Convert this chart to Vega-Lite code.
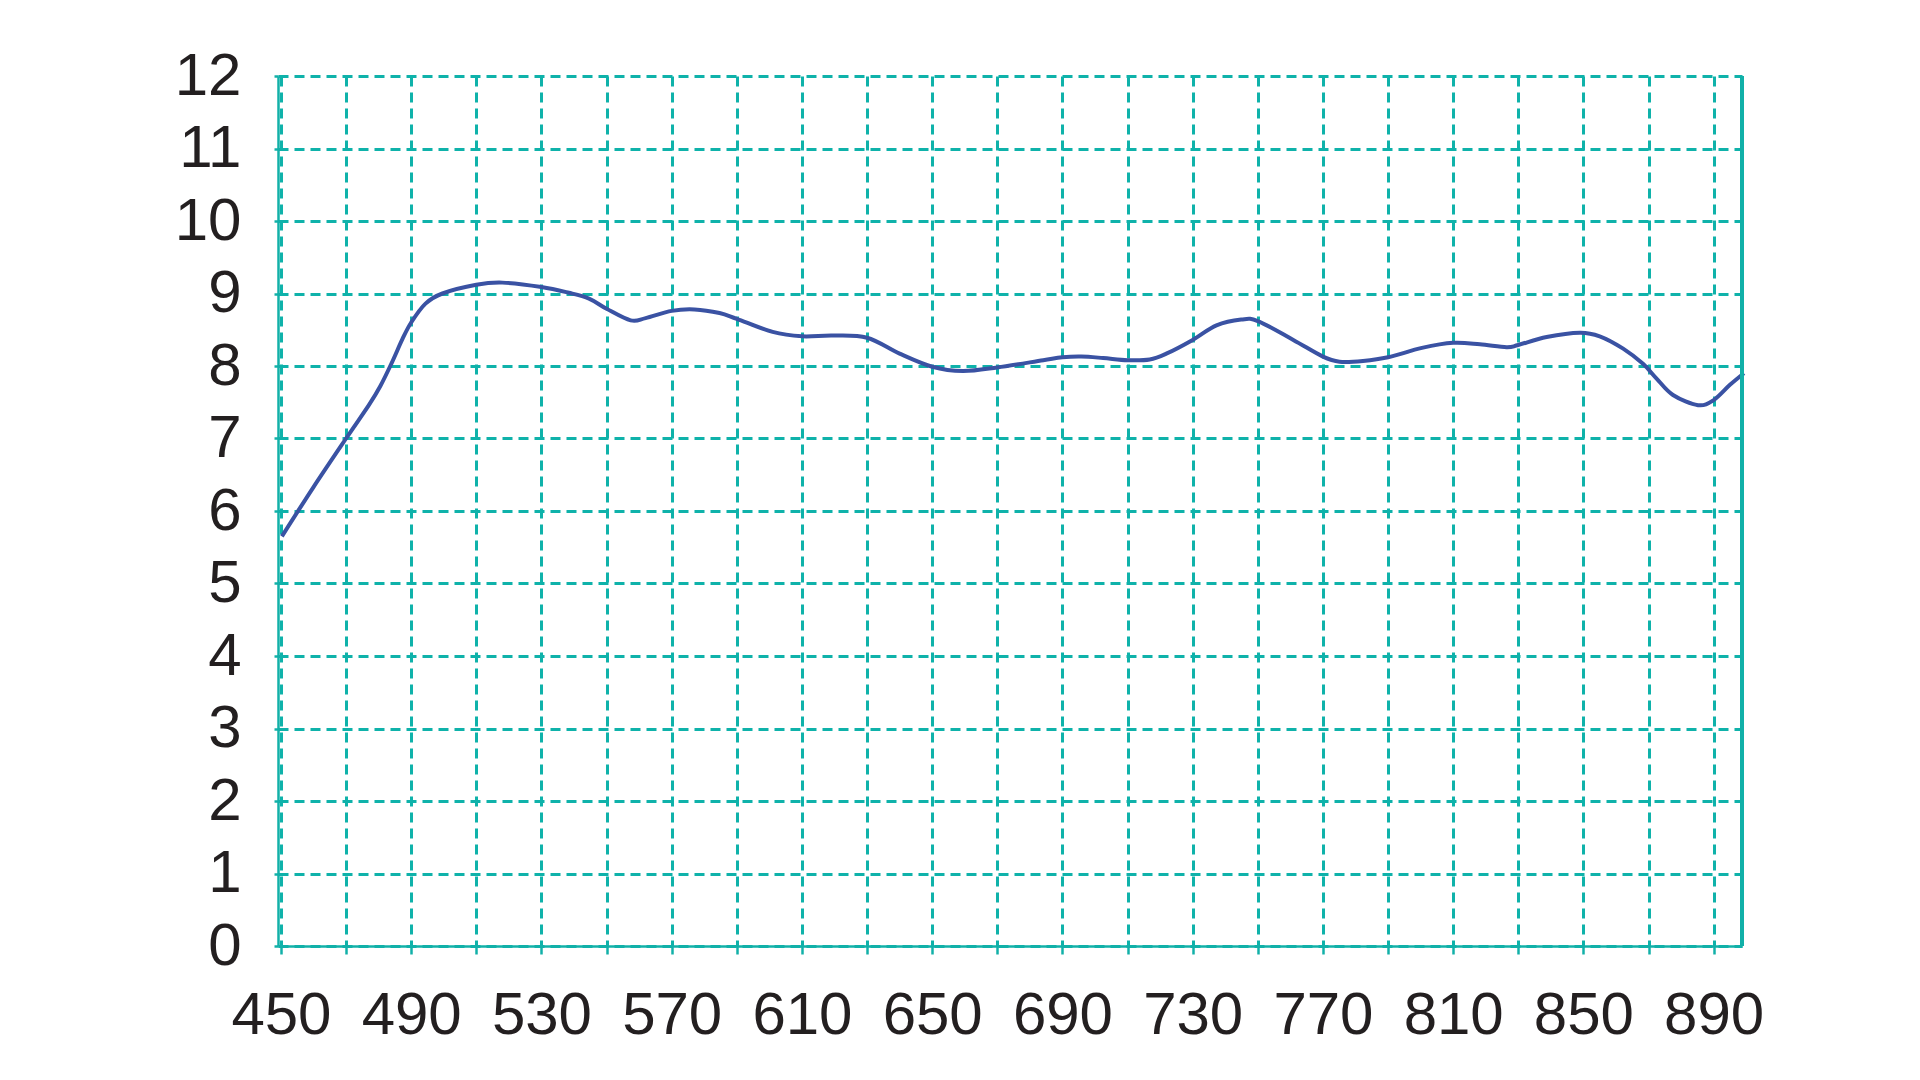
{
  "$schema": "https://vega.github.io/schema/vega-lite/v6.json",
  "width": 1464,
  "height": 870,
  "autosize": {"type": "none"},
  "padding": {"left": 278, "top": 76, "right": 178, "bottom": 134},
  "background": "white",
  "config": {
    "view": {"stroke": null},
    "font": "Liberation Sans",
    "axis": {
      "labelFont": "Liberation Sans",
      "labelFontSize": 60,
      "labelColor": "#231f20",
      "domainColor": "#12b0a8",
      "domainWidth": 2.5,
      "tickColor": "#12b0a8",
      "tickWidth": 2.5,
      "gridColor": "#0fb2aa",
      "gridWidth": 3,
      "gridDash": [10, 6],
      "gridOpacity": 1,
      "title": null
    }
  },
  "data": {
    "values": [
      {"wl": 450.3, "v": 5.65},
      {"wl": 460, "v": 6.33},
      {"wl": 470, "v": 7.0},
      {"wl": 477, "v": 7.46},
      {"wl": 480.5, "v": 7.72},
      {"wl": 484, "v": 8.04},
      {"wl": 487.3, "v": 8.37},
      {"wl": 490, "v": 8.6},
      {"wl": 494.4, "v": 8.86},
      {"wl": 499.6, "v": 9.0},
      {"wl": 510, "v": 9.12},
      {"wl": 518, "v": 9.15},
      {"wl": 530, "v": 9.09},
      {"wl": 538.4, "v": 9.01},
      {"wl": 544.6, "v": 8.93},
      {"wl": 550, "v": 8.79},
      {"wl": 557.4, "v": 8.63},
      {"wl": 562, "v": 8.66},
      {"wl": 570, "v": 8.76},
      {"wl": 577, "v": 8.78},
      {"wl": 584.7, "v": 8.73},
      {"wl": 590, "v": 8.65},
      {"wl": 601, "v": 8.47},
      {"wl": 610, "v": 8.41},
      {"wl": 619.5, "v": 8.42},
      {"wl": 630, "v": 8.39},
      {"wl": 640, "v": 8.17},
      {"wl": 650, "v": 7.99},
      {"wl": 659.4, "v": 7.93},
      {"wl": 670, "v": 7.98},
      {"wl": 684.1, "v": 8.08},
      {"wl": 690, "v": 8.12},
      {"wl": 695.8, "v": 8.13},
      {"wl": 702.5, "v": 8.11},
      {"wl": 710, "v": 8.08},
      {"wl": 716.8, "v": 8.09},
      {"wl": 721.9, "v": 8.17},
      {"wl": 730, "v": 8.36},
      {"wl": 737.3, "v": 8.56},
      {"wl": 744.9, "v": 8.64},
      {"wl": 750, "v": 8.62},
      {"wl": 760.9, "v": 8.36},
      {"wl": 770, "v": 8.13},
      {"wl": 775.1, "v": 8.06},
      {"wl": 782.3, "v": 8.07},
      {"wl": 790, "v": 8.12},
      {"wl": 800.4, "v": 8.25},
      {"wl": 810, "v": 8.32},
      {"wl": 818.2, "v": 8.3},
      {"wl": 826.4, "v": 8.26},
      {"wl": 830, "v": 8.29},
      {"wl": 838.7, "v": 8.4},
      {"wl": 848.9, "v": 8.46},
      {"wl": 855, "v": 8.41},
      {"wl": 862.2, "v": 8.24},
      {"wl": 868.3, "v": 8.03},
      {"wl": 872.4, "v": 7.83},
      {"wl": 877.5, "v": 7.6},
      {"wl": 885.2, "v": 7.46},
      {"wl": 890, "v": 7.53},
      {"wl": 895, "v": 7.74},
      {"wl": 899.3, "v": 7.9}
    ]
  },
  "layer": [
    {
      "mark": {"type": "line", "interpolate": "cardinal", "color": "#3a52a3", "strokeWidth": 4, "clip": false},
      "encoding": {
        "x": {
          "field": "wl",
          "type": "quantitative",
          "scale": {"domain": [449.1, 898.7], "nice": false, "zero": false},
          "axis": {
            "values": [450, 470, 490, 510, 530, 550, 570, 590, 610, 630, 650, 670, 690, 710, 730, 750, 770, 790, 810, 830, 850, 870, 890],
            "labelExpr": "(datum.value - 450) % 40 == 0 ? datum.label : ''",
            "tickSize": 8,
            "labelPadding": 32,
            "labelBaseline": "top",
            "labelFlush": false,
            "labelOverlap": false
          }
        },
        "y": {
          "field": "v",
          "type": "quantitative",
          "scale": {"domain": [0, 12], "nice": false},
          "axis": {
            "values": [0, 1, 2, 3, 4, 5, 6, 7, 8, 9, 10, 11, 12],
            "tickSize": 4,
            "labelPadding": 33,
            "labelFlush": false,
            "labelOverlap": false
          }
        }
      }
    },
    {
      "mark": {"type": "rule", "color": "#12b0a8", "strokeWidth": 2.5},
      "encoding": {
        "x": {"datum": 898.7}
      }
    }
  ]
}
